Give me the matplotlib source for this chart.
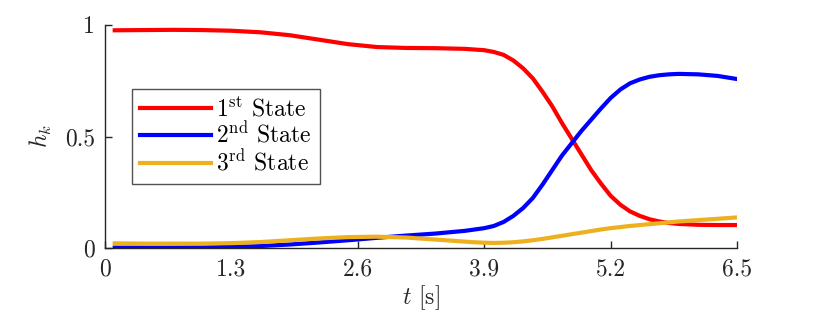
import matplotlib
matplotlib.use('Agg')
import matplotlib.pyplot as plt

t = [0.1, 0.4, 0.7, 1.0, 1.3, 1.6, 1.9, 2.2, 2.5, 2.8, 3.1, 3.4, 3.7,
     3.8, 3.9, 4.0, 4.1, 4.2, 4.3, 4.4, 4.5, 4.6, 4.7, 4.8, 4.9, 5.0, 5.1,
     5.2, 5.3, 5.4, 5.5, 5.6, 5.7, 5.8, 5.9, 6.1, 6.3, 6.5]

h1 = [0.975, 0.976, 0.977, 0.976, 0.973, 0.966, 0.953, 0.933, 0.913, 0.900, 0.896, 0.895, 0.892,
      0.889, 0.886, 0.878, 0.865, 0.840, 0.805, 0.760, 0.700, 0.635, 0.560, 0.490, 0.420, 0.350,
      0.290, 0.235, 0.195, 0.165, 0.145, 0.130, 0.120, 0.113, 0.109, 0.105, 0.104, 0.104]
h2 = [0.003, 0.003, 0.003, 0.004, 0.006, 0.010, 0.017, 0.026, 0.036, 0.047, 0.057, 0.066, 0.078,
      0.084, 0.090, 0.100, 0.118, 0.145, 0.180, 0.225, 0.285, 0.350, 0.415, 0.470, 0.525, 0.575,
      0.625, 0.672, 0.710, 0.738, 0.755, 0.767, 0.774, 0.778, 0.780, 0.778, 0.771, 0.757]
h3 = [0.022, 0.021, 0.021, 0.021, 0.023, 0.028, 0.036, 0.044, 0.050, 0.052, 0.048, 0.039, 0.030,
      0.027, 0.025, 0.024, 0.025, 0.027, 0.031, 0.036, 0.042, 0.049, 0.056, 0.063, 0.070, 0.077,
      0.084, 0.090, 0.095, 0.100, 0.104, 0.108, 0.112, 0.116, 0.120, 0.126, 0.132, 0.138]

labels = [r'1$^{\rm st}$ State', r'2$^{\rm nd}$ State', r'3$^{\rm rd}$ State']
xticks = [0, 1.3, 2.6, 3.9, 5.2, 6.5]
yticks = [0, 0.5, 1]

plt.rcParams['font.family'] = ['cmr10', 'DejaVu Serif']
plt.rcParams['mathtext.fontset'] = 'cm'
plt.rcParams['axes.formatter.use_mathtext'] = True

fig = plt.figure(figsize=(8.14, 3.24), dpi=100)
ax = fig.add_axes([105 / 814, 75.7 / 324, 632 / 814, 223.6 / 324])

ax.plot(t, h1, color=(1, 0, 0), lw=3, label=labels[0])
ax.plot(t, h2, color=(0, 0, 1), lw=3, label=labels[1])
ax.plot(t, h3, color=(0.929, 0.694, 0.125), lw=3, label=labels[2])

ax.set_xlim(0, 6.5)
ax.set_ylim(0, 1)
ax.set_xticks(xticks)
ax.set_xticklabels(['0', '1.3', '2.6', '3.9', '5.2', '6.5'])
ax.set_yticks(yticks)
ax.set_yticklabels(['0', '0.5', '1'])
ax.tick_params(direction='in', length=5, width=1, colors='0.15', labelsize=17, pad=7,
               labelcolor='0.15')

for s in ['top', 'right']:
    ax.spines[s].set_visible(False)
for s in ['left', 'bottom']:
    ax.spines[s].set_color('0.15')
    ax.spines[s].set_linewidth(1)

ax.set_xlabel(r'$t$ [s]', fontsize=17, color='0.15', labelpad=2)
ax.set_ylabel(r'$h_k$', fontsize=17, color='0.15', labelpad=8)

leg = ax.legend(loc='upper left', bbox_to_anchor=(27 / 632, (248.3 - 89) / 223.6),
                fontsize=17, handlelength=3.0, frameon=True, fancybox=False,
                borderpad=0.35, labelspacing=0.05, handletextpad=0.2, borderaxespad=0)
leg.get_frame().set_edgecolor('0.15')
leg.get_frame().set_linewidth(1)

fig.savefig('out.png', dpi=100)
